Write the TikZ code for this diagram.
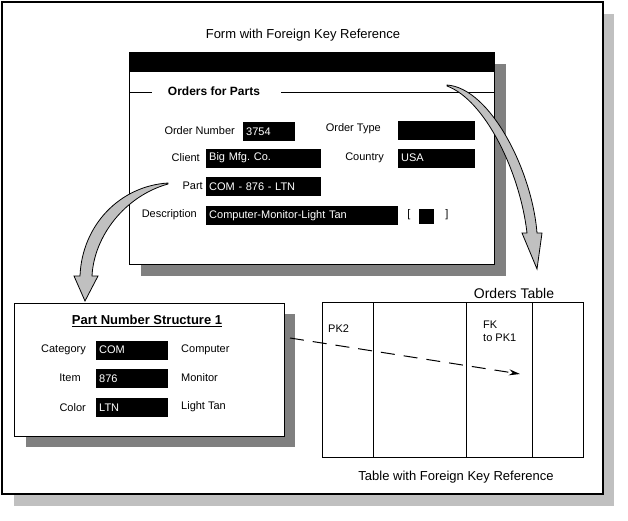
\documentclass[tikz,border=0pt]{standalone}
\usepackage{fontspec}
\setmainfont{Liberation Sans}
\usepackage{xcolor}
\usetikzlibrary{arrows.meta}
\frenchspacing

\definecolor{shadowdark}{HTML}{808080}
\definecolor{shadowlight}{HTML}{C0C0C0}

\tikzset{
  fldlabel/.style={font=\fontsize{11}{13}\selectfont, inner sep=0pt},
  fldbox/.style={fill=black, text=white, font=\fontsize{11}{13}\selectfont, anchor=west,
    minimum height=19pt, inner xsep=3pt, inner ysep=0pt, text width=#1, align=left},
  caption/.style={font=\fontsize{13}{15}\selectfont, inner sep=0pt},
  bendarrow/.style={draw=black, fill=shadowlight, line width=0.8pt, line join=miter}
}

\begin{document}
\begin{tikzpicture}[x=1pt,y=-1pt]
\useasboundingbox (0,0) rectangle (628,520);
\fill[white] (0,0) rectangle (628,520);

\fill[shadowlight] (603,14) rectangle (614,506);
\fill[shadowlight] (14,494) rectangle (614,506);
\draw[line width=1.5pt] (2,2) rectangle (603,494);

\node[caption] (formtitle) at (303,35) {Form with Foreign Key Reference};

\fill[shadowdark] (494,64) rectangle (506,276);
\fill[shadowdark] (141,264) rectangle (506,276);
\draw[fill=white, line width=1pt] (129,52) rectangle (494,264);
\fill[black] (129,52) rectangle (494,72);
\draw[line width=1pt] (129,92) -- (152,92);
\draw[line width=1pt] (281,92) -- (494,92);
\node[font=\fontsize{12}{14}\selectfont\bfseries, inner sep=0pt] (formhead) at (214,91) {Orders for Parts};

\node[fldlabel, anchor=east] (lblnum) at (235,131) {Order Number};
\node[fldbox=46pt] (boxnum) at (243,131.5) {3754};
\node[fldlabel, anchor=east] (lbltype) at (381,129) {Order Type};
\node[fldbox=71pt] (boxtype) at (398,130) {};
\node[fldlabel, anchor=east] (lblclient) at (200,158) {Client};
\node[fldbox=109pt] (boxclient) at (206,158) {Big Mfg. Co.};
\node[fldlabel, anchor=east] (lblcountry) at (384,158) {Country};
\node[fldbox=71pt] (boxcountry) at (398,158) {USA};
\node[fldlabel, anchor=east] (lblpart) at (203,186) {Part};
\node[fldbox=109pt] (boxpart) at (206,186.5) {COM - 876 - LTN};
\node[fldlabel, anchor=east] (lbldesc) at (197,215) {Description};
\node[fldbox=186pt] (boxdesc) at (206,215.5) {Computer-Monitor-Light Tan};
\node[fldlabel] (lbrk) at (409,215) {[};
\node[fill=black, minimum size=15pt, inner sep=0pt] (chk) at (426.5,216.5) {};
\node[fldlabel] (rbrk) at (447,215) {]};

\draw[bendarrow] (168,183) .. controls (120,186) and (82,225) .. (80,276) -- (74,276)
  -- (85,301) -- (98,276) -- (92,276) .. controls (94,236) and (125,196) .. (168,184) -- cycle;
\draw[bendarrow] (447,85) .. controls (490,88) and (532,170) .. (537,233) -- (542,233)
  -- (537,269) -- (522,233) -- (527,233) .. controls (520,172) and (485,100) .. (447,86) -- cycle;

\fill[shadowdark] (284,314) rectangle (295,447);
\fill[shadowdark] (26,436) rectangle (295,447);
\draw[fill=white, line width=1pt] (14,303) rectangle (284,436);
\node[font=\fontsize{13}{15}\selectfont\bfseries, inner sep=0pt] (pnstitle) at (147,321) {\underline{Part Number Structure 1}};

\node[fldlabel, anchor=east] (lblcat) at (86,350) {Category};
\node[fldbox=66pt] (boxcat) at (96,350) {COM};
\node[fldlabel, anchor=west] (txtcat) at (181,350) {Computer};
\node[fldlabel] (lblitem) at (70,378) {Item};
\node[fldbox=66pt] (boxitem) at (96,378.5) {876};
\node[fldlabel, anchor=west] (txtitem) at (181,378) {Monitor};
\node[fldlabel, anchor=east] (lblcolor) at (86,408) {Color};
\node[fldbox=66pt] (boxcolor) at (96,407.5) {LTN};
\node[fldlabel, anchor=west] (txtcolor) at (181,407) {Light Tan};

\node[font=\fontsize{14}{16}\selectfont, inner sep=0pt] (tbltitle) at (514,293) {Orders Table};
\draw[line width=1pt] (322,302) rectangle (583,457);
\draw[line width=1pt] (373,302) -- (373,457);
\draw[line width=1pt] (466,302) -- (466,457);
\draw[line width=1pt] (532,302) -- (532,457);
\node[fldlabel, anchor=west] (pktwo) at (328,329) {PK2};
\node[fldlabel, anchor=west, align=left] (fkone) at (483,331) {FK\\to PK1};
\node[caption] (tblcaption) at (456,477) {Table with Foreign Key Reference};

\coordinate (fkstart) at (290,338);
\coordinate (fkend) at (520,374);
\draw[line width=1pt, dash pattern=on 14pt off 9pt, -{Stealth[length=11pt,width=6pt]}] (fkstart) -- (fkend);
\end{tikzpicture}
\end{document}
